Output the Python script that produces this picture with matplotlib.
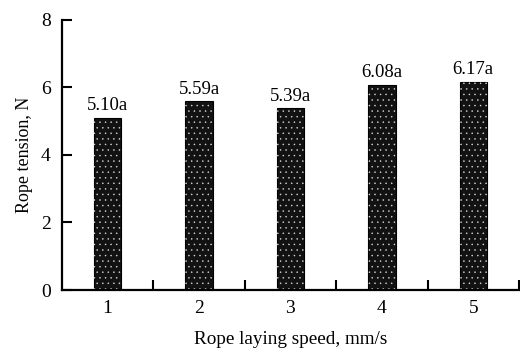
import matplotlib
matplotlib.use("Agg")
import matplotlib.pyplot as plt

# rope tension at each laying speed
speeds = [1, 2, 3, 4, 5]
tension = [5.10, 5.59, 5.39, 6.08, 6.17]
groups = ["a", "a", "a", "a", "a"]
yticks = [0, 2, 4, 6, 8]

plt.rcParams['font.family'] = ['Liberation Serif', 'DejaVu Serif']
plt.rcParams['hatch.linewidth'] = 0.3

fig = plt.figure(figsize=(5.2, 3.49), dpi=100)
ax = fig.add_axes([0.119, 0.169, 0.879, 0.774])

# dark stippled bars: solid fill, then a fine white dot hatch on top
ax.bar(speeds, tension, width=0.3, color="#121212", edgecolor="black", linewidth=0.8)
ax.bar(speeds, tension, width=0.3, facecolor="none", edgecolor="#dddddd",
       hatch="...", linewidth=0)

for x, v, g in zip(speeds, tension, groups):
    ax.annotate("{:.2f}{}".format(v, g), (x, v), xytext=(0, 2.5),
                textcoords="offset points", ha="center", va="bottom", fontsize=13.5)

ax.set_xlim(0.5, 5.5)
ax.set_ylim(0, 8)
ax.set_yticks(yticks)
ax.set_xticks(speeds)
ax.set_xticks([1.5, 2.5, 3.5, 4.5, 5.5], minor=True)

ax.spines["top"].set_visible(False)
ax.spines["right"].set_visible(False)
ax.spines["left"].set_linewidth(1.6)
ax.spines["bottom"].set_linewidth(1.6)

ax.tick_params(axis="y", direction="in", length=7, width=1.5, labelsize=14, pad=8)
ax.tick_params(axis="x", which="major", length=0, labelsize=14, pad=7)
ax.tick_params(axis="x", which="minor", direction="in", length=7, width=1.5)

ax.set_xlabel("Rope laying speed, mm/s", fontsize=13.8, labelpad=10)
ax.set_ylabel("Rope tension, N", fontsize=13, labelpad=6)

fig.savefig("out.png", dpi=100)
